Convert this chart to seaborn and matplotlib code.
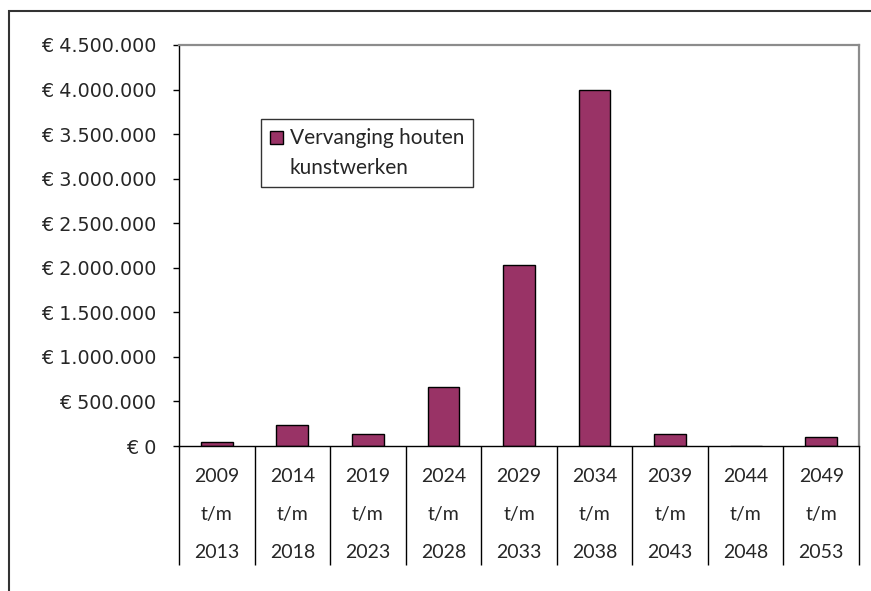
import numpy as np
import pandas as pd
import matplotlib
matplotlib.use("Agg")
import matplotlib.pyplot as plt
import seaborn as sns
from matplotlib.patches import Rectangle
from matplotlib.legend_handler import HandlerPatch
from matplotlib.ticker import FuncFormatter

# data
start_years = ["2009", "2014", "2019", "2024", "2029", "2034", "2039", "2044", "2049"]
end_years = ["2013", "2018", "2023", "2028", "2033", "2038", "2043", "2048", "2053"]
costs = [40000, 240000, 140000, 660000, 2030000, 4000000, 140000, 0, 100000]
series_name = "Vervanging houten\nkunstwerken"
bar_color = "#993366"

df = pd.DataFrame({"periode": [f"{a}\nt/m\n{b}" for a, b in zip(start_years, end_years)],
                   "kosten": costs})

sns.set_theme(style="white")
plt.rcParams["font.family"] = ["DejaVu Sans"]

fig = plt.figure(figsize=(8.71, 5.91), dpi=100)
ax = fig.add_axes([179 / 871, 1 - 446 / 591, 680 / 871, 401 / 591])

sns.barplot(data=df, x="periode", y="kosten", color=bar_color, saturation=1,
            edgecolor="black", linewidth=1, width=0.42, ax=ax)

ax.set_ylim(0, 4500000)
ax.set_xlim(-0.5, len(costs) - 0.5)
ax.set_yticks(np.arange(0, 4500001, 500000))
ax.yaxis.set_major_formatter(FuncFormatter(
    lambda v, p: "€ " + f"{int(v):,}".replace(",", ".")))
ax.set_xlabel("")
ax.set_ylabel("")

# spines
for s in ["left", "bottom"]:
    ax.spines[s].set_color("black")
    ax.spines[s].set_linewidth(1)
for s in ["top", "right"]:
    ax.spines[s].set_color("#8c8c8c")
    ax.spines[s].set_linewidth(1.6)

ax.tick_params(axis="y", left=True, length=4.5, width=1, color="black",
               pad=12, labelsize=13.8)
# category separators as minor ticks
ax.set_xticks(np.arange(-0.5, len(costs)), minor=True)
ax.tick_params(axis="x", which="minor", bottom=True, length=86, width=1, color="black")
ax.tick_params(axis="x", which="major", bottom=False, length=0, pad=16)
for lbl in ax.get_xticklabels():
    lbl.set_fontfamily(["Lato", "DejaVu Sans"])
    lbl.set_fontsize(14)
    lbl.set_linespacing(2.5)
    lbl.set_verticalalignment("top")


# legend marker aligned with first text line
def top_square(legend, orig_handle, xdescent, ydescent, width, height, fontsize):
    size = 0.62 * fontsize
    return Rectangle((-xdescent, -ydescent + 0.8 * fontsize), size, size)


proxy = Rectangle((0, 0), 1, 1, facecolor=bar_color, edgecolor="black", linewidth=1)
leg = ax.legend([proxy], [series_name], loc="upper left",
                bbox_to_anchor=((261 - 179) / 680, (446 - 119) / 401),
                borderaxespad=0, frameon=True, fancybox=False,
                handlelength=0.62, handleheight=0.62, handletextpad=0.35,
                borderpad=0.42, labelspacing=0,
                prop={"family": ["Lato", "DejaVu Sans"], "size": 15},
                handler_map={Rectangle: HandlerPatch(patch_func=top_square)})
leg.get_frame().set_edgecolor("black")
leg.get_frame().set_linewidth(1)
leg.get_frame().set_facecolor("white")
for t in leg.get_texts():
    t.set_linespacing(1.65)

# outer chart border
fig.patches.append(Rectangle((9 / 871, -0.1), 1.2, (591 - 11) / 591 + 0.1,
                             transform=fig.transFigure, fill=False,
                             edgecolor="#333333", linewidth=1.5))

fig.savefig("out.png", dpi=100)
